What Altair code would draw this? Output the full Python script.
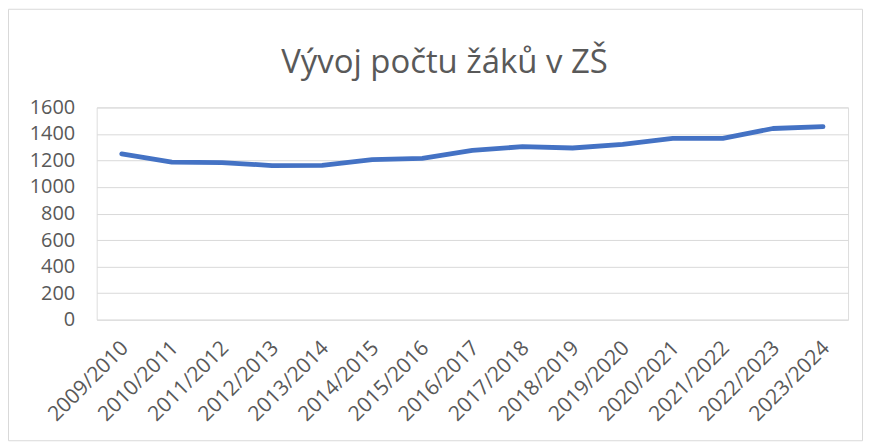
import altair as alt
import pandas as pd

years = ["2009/2010", "2010/2011", "2011/2012", "2012/2013", "2013/2014",
         "2014/2015", "2015/2016", "2016/2017", "2017/2018", "2018/2019",
         "2019/2020", "2020/2021", "2021/2022", "2022/2023", "2023/2024"]
pupils = [1250, 1188, 1184, 1162, 1163, 1207, 1216, 1276, 1304, 1294,
          1322, 1366, 1366, 1441, 1455]
y_ticks = [0, 200, 400, 600, 800, 1000, 1200, 1400, 1600]
title_text = "Vývoj počtu žáků v ZŠ"

df = pd.DataFrame({"rok": years, "zaci": pupils})

W, H = 754, 213
PAD_L, PAD_T, PAD_R, PAD_B = 89, 99, 15, 122

line = alt.Chart(df).mark_line(
    color="#4472C4", strokeWidth=4.8, strokeCap="round", strokeJoin="round"
).encode(
    x=alt.X("rok:N", sort=years, title=None,
            scale=alt.Scale(type="point", padding=0.5),
            axis=alt.Axis(labelAngle=-45, labelAlign="right", labelBaseline="middle",
                          labelPadding=25, labelOffset=3, ticks=False, domain=False, grid=False,
                          labelFont="Open Sans", labelFontSize=21, labelColor="#595959")),
    y=alt.Y("zaci:Q", title=None,
            scale=alt.Scale(domain=[0, 1600], nice=False),
            axis=alt.Axis(values=y_ticks, format="d", ticks=False, domain=False, grid=True,
                          gridColor="#d9d9d9", gridWidth=1, labelPadding=22,
                          labelFont="Open Sans", labelFontSize=20, labelColor="#595959")),
)

border = alt.Chart(pd.DataFrame({"a": [0]})).mark_rect(
    fillOpacity=0, stroke="#d9d9d9", strokeWidth=1
).encode(
    x=alt.value(-PAD_L + 0.5), x2=alt.value(W + PAD_R - 0.5),
    y=alt.value(-PAD_T + 0.5), y2=alt.value(H + PAD_B - 0.5),
)

title = alt.Chart(pd.DataFrame({"t": [title_text]})).mark_text(
    font="Open Sans", fontSize=33, color="#595959",
    align="center", baseline="alphabetic"
).encode(
    text="t:N", x=alt.value(W / 2 - 28), y=alt.value(-35),
)

chart = alt.layer(border, line, title).properties(
    width=W, height=H,
    autosize=alt.AutoSizeParams(type="none"),
    padding={"left": PAD_L, "top": PAD_T, "right": PAD_R, "bottom": PAD_B},
).configure_view(stroke=None).configure(background="white")

chart.save("out.html", embed_options={"renderer": "svg", "actions": False})
